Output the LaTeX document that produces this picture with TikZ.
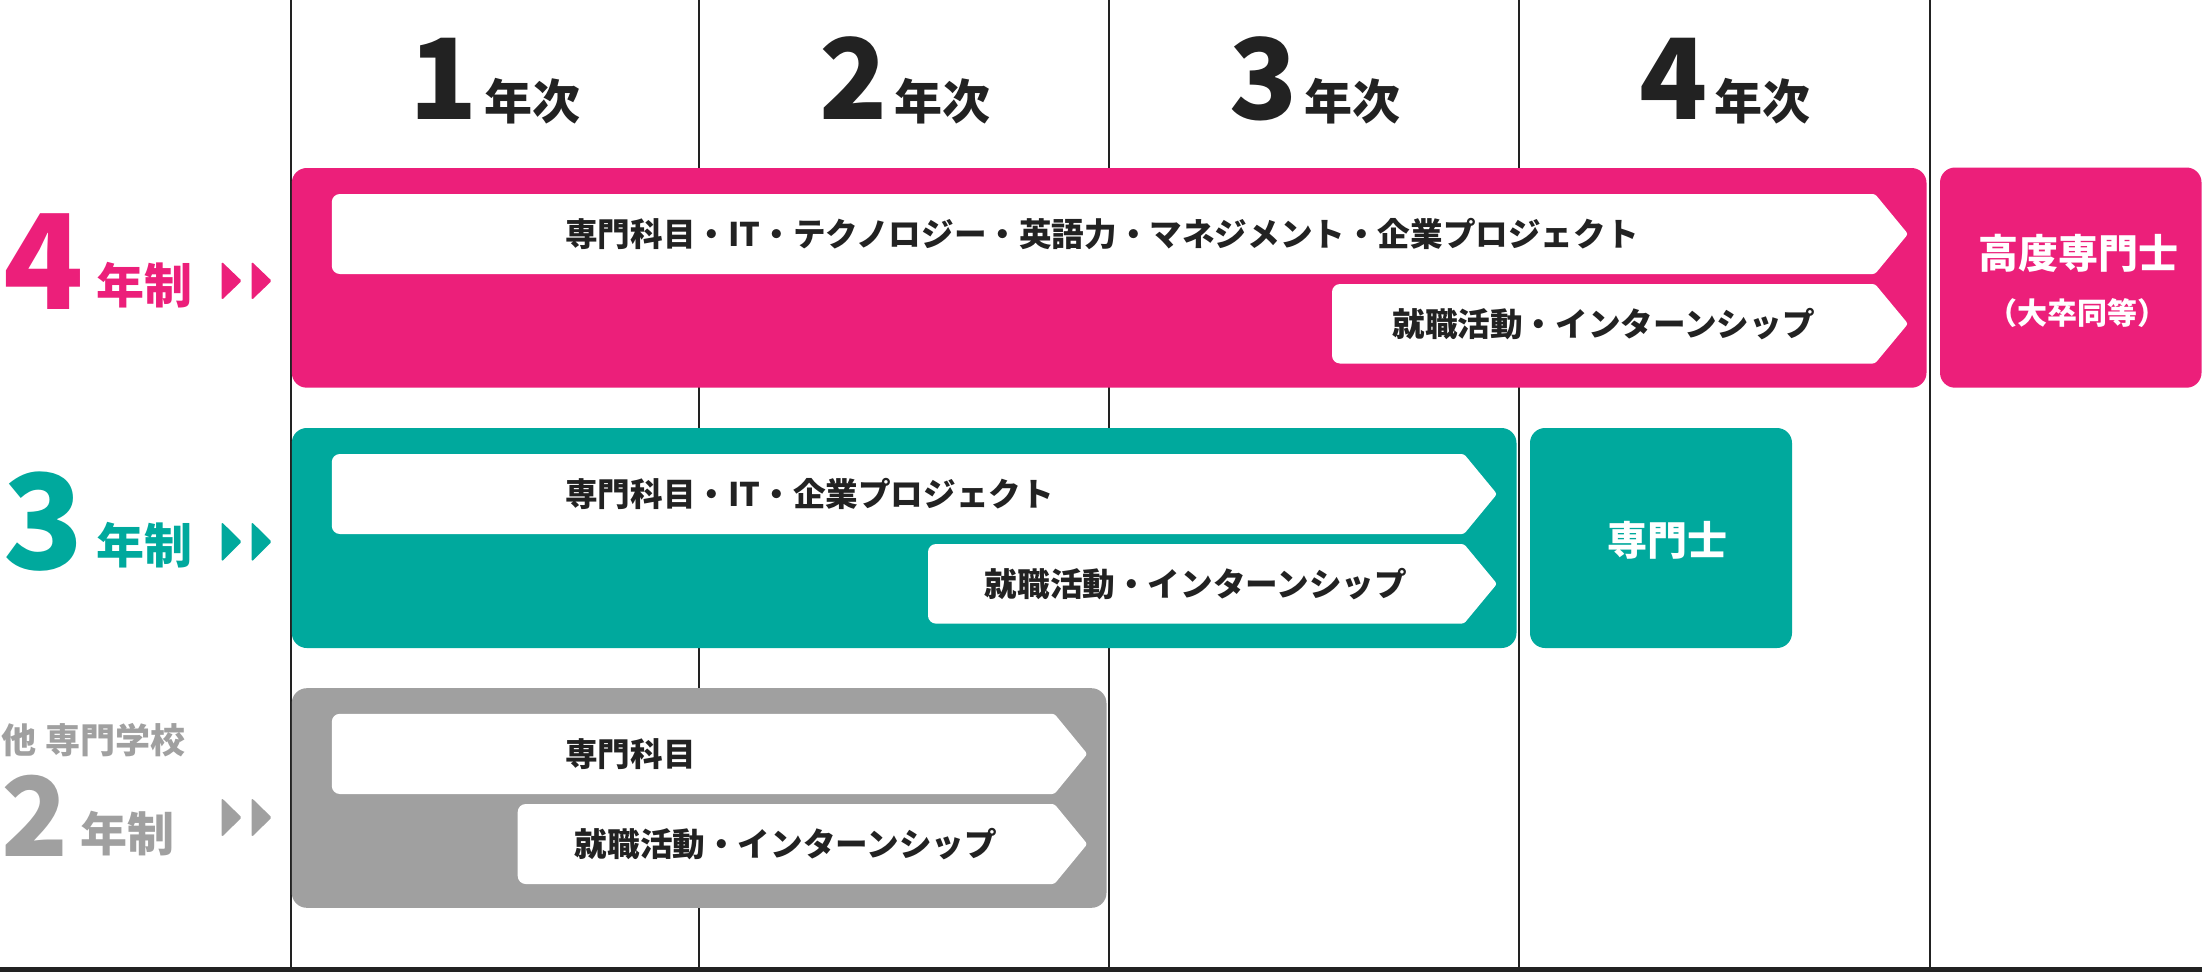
\documentclass[tikz,border=0pt]{standalone}
\usepackage{fontspec}
\setmainfont{Noto Sans CJK JP}
\definecolor{pk}{HTML}{EC1F7A}
\definecolor{tl}{HTML}{00A99D}
\definecolor{gr}{HTML}{A0A0A0}
\definecolor{ink}{HTML}{222222}
\newcommand\fs[1]{\fontsize{#1}{#1}\selectfont}
% #1 left, #2 body end, #3 tip, #4 top, #5 bottom
\newcommand\arrowband[5]{%
  \fill[white,rounded corners=2.5] ({#3},{(#4+#5)/2}) -- ({#2},{#4}) [rounded corners=8] -- ({#1},{#4}) -- ({#1},{#5}) [rounded corners=2.5] -- ({#2},{#5}) -- cycle;}
% #1 left x, #2 top, #3 bottom
\newcommand\playmark[3]{%
  \fill[rounded corners=1.5] ({#1},{#2}) -- ({#1+20},{(#2+#3)/2}) -- ({#1},{#3}) -- cycle;
  \fill[rounded corners=1.5] ({#1+30},{#2}) -- ({#1+50},{(#2+#3)/2}) -- ({#1+30},{#3}) -- cycle;}
\begin{document}
\begin{tikzpicture}[x=1pt,y=-1pt,
  bandtxt/.style={font=\fs{32.6}\bfseries, text=ink, inner sep=0pt},
  headtxt/.style={text=ink, inner sep=0pt, anchor=base},
  degtxt/.style={text=white, inner sep=0pt, font=\bfseries},
  sidetxt/.style={inner sep=0pt, anchor=base west, font=\bfseries},
  colline/.style={draw=ink, line width=2pt}]
\useasboundingbox (0,0) rectangle (2202,972);
\fill[white] (0,0) rectangle (2202,972);
% column lines
\foreach \cx/\nm in {290.5/l0,699/l1,1108.5/l2,1519/l3,1929.5/l4}{
  \coordinate (\nm t) at (\cx,0);
  \coordinate (\nm b) at (\cx,968);
  \draw[colline] (\nm t) -- (\nm b);
}
\fill[ink] (0,966.5) rectangle (2202,971.5);
% headers
\node[headtxt] (h1) at (495,119) {\bfseries\fs{112}1\hspace{6pt}\fs{48}年次};
\node[headtxt] (h2) at (905,119) {\bfseries\fs{112}2\hspace{6pt}\fs{48}年次};
\node[headtxt] (h3) at (1315,119) {\bfseries\fs{112}3\hspace{6pt}\fs{48}年次};
\node[headtxt] (h4) at (1725,119) {\bfseries\fs{112}4\hspace{6pt}\fs{48}年次};
% ---- 4-year row
\fill[pk,rounded corners=15] (291.8,168) rectangle (1926.5,387.7);
\arrowband{331.8}{1875}{1908}{194}{274}
\arrowband{1332}{1875}{1908}{284}{363.5}
\node[bandtxt,anchor=west] (p1) at (565,234) {専門科目・IT・テクノロジー・英語力・マネジメント・企業プロジェクト};
\node[bandtxt] (p2) at (1603.5,323.7) {就職活動・インターンシップ};
\fill[pk,rounded corners=15] (1940,167.5) rectangle (2201.5,387.7);
\node[degtxt,font=\fs{40}\bfseries] (pd1) at (2078,253) {高度専門士};
\node[degtxt,font=\fs{30}\bfseries] (pd2) at (2077,313) {（大卒同等）};
\node[sidetxt,text=pk,font=\fs{132}\bfseries] (s4) at (3,309) {4};
\node[sidetxt,text=pk,font=\fs{48}\bfseries] (s4y) at (96,303) {年制};
\begin{scope}[pk]\playmark{221.7}{261.7}{300}\end{scope}
% ---- 3-year row
\fill[tl,rounded corners=15] (291.8,428) rectangle (1516.5,648);
\arrowband{331.8}{1464}{1497}{454}{534}
\arrowband{928}{1464}{1497}{544}{623.6}
\node[bandtxt,anchor=west] (t1) at (565,494) {専門科目・IT・企業プロジェクト};
\node[bandtxt] (t2) at (1196,583.8) {就職活動・インターンシップ};
\fill[tl,rounded corners=15] (1530,428) rectangle (1792,648);
\node[degtxt,font=\fs{40}\bfseries] (td) at (1667.5,540.7) {専門士};
\node[sidetxt,text=tl,font=\fs{132}\bfseries] (s3) at (3,569) {3};
\node[sidetxt,text=tl,font=\fs{48}\bfseries] (s3y) at (96,563) {年制};
\begin{scope}[tl]\playmark{221.7}{522}{561.6}\end{scope}
% ---- 2-year row
\fill[gr,rounded corners=15] (291.8,688.2) rectangle (1106.5,907.8);
\arrowband{331.8}{1054.4}{1087.3}{713.8}{794}
\arrowband{517.7}{1054.4}{1087.3}{804}{884}
\node[bandtxt,anchor=west] (g1) at (565,754) {専門科目};
\node[bandtxt] (g2) at (786,844) {就職活動・インターンシップ};
\node[sidetxt,text=gr,font=\fs{35}\bfseries] (sg) at (1,753) {他\hspace{9pt}専門学校};
\node[sidetxt,text=gr,font=\fs{110}\bfseries] (s2) at (1,856) {2};
\node[sidetxt,text=gr,font=\fs{47}\bfseries] (s2y) at (80,851) {年制};
\begin{scope}[gr]\playmark{221.7}{798}{837}\end{scope}
\end{tikzpicture}
\end{document}
